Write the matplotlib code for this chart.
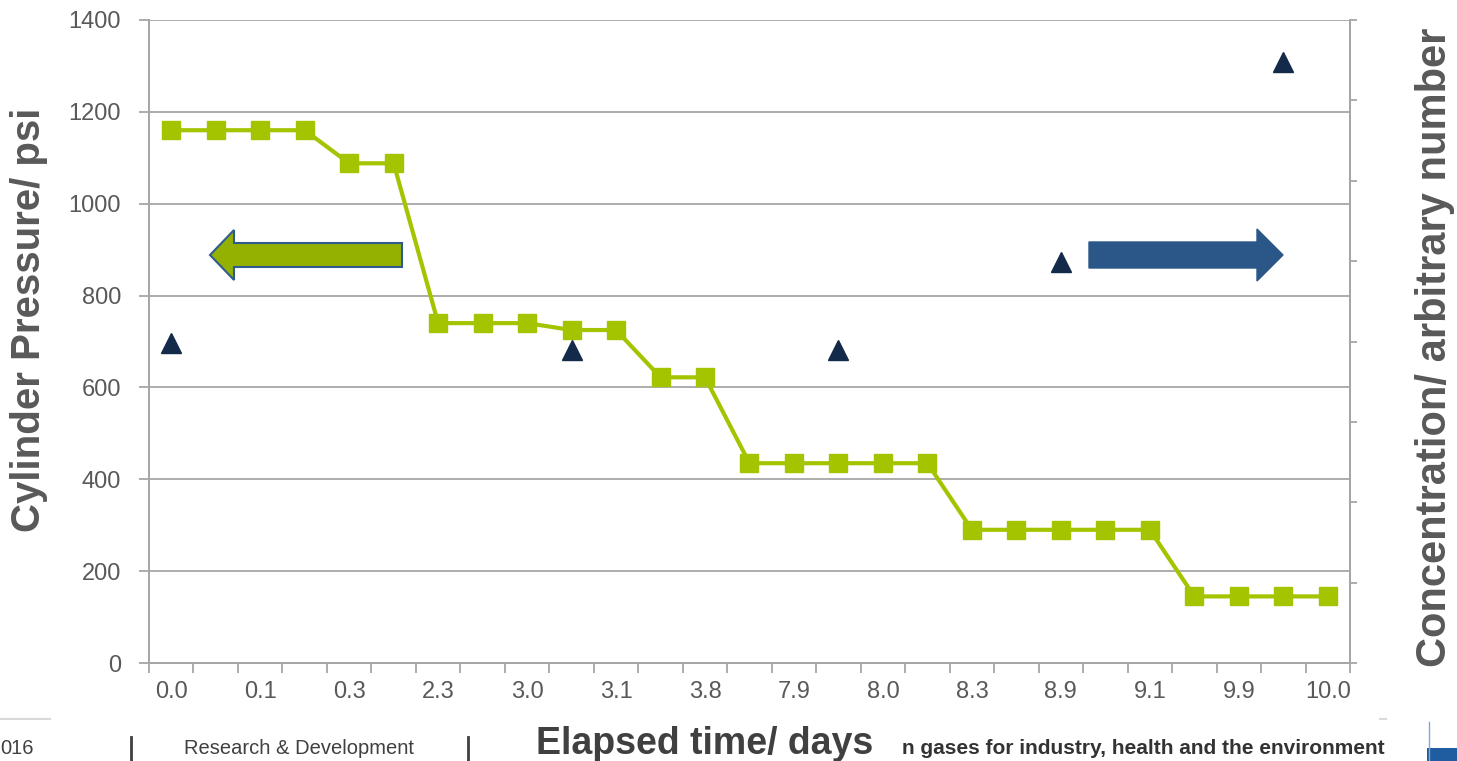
import numpy as np
import matplotlib
matplotlib.use("Agg")
import matplotlib.pyplot as plt
from matplotlib.patches import Polygon, Rectangle
from matplotlib.lines import Line2D

plt.rcParams["font.family"] = ["Liberation Sans", "DejaVu Sans"]

# pressure readings, one per sample (27 samples, every 2nd labelled)
pressure = [1160, 1160, 1160, 1160, 1088, 1088,
            740, 740, 740, 725, 725, 622, 622,
            435, 435, 435, 435, 435,
            290, 290, 290, 290, 290,
            145, 145, 145, 145]
time_labels = ["0.0", "0.1", "0.3", "2.3", "3.0", "3.1", "3.8",
               "7.9", "8.0", "8.3", "8.9", "9.1", "9.9", "10.0"]

# concentration samples (secondary axis, arbitrary units)
conc_idx = [0, 9, 15, 20, 25]
conc_val = [3.98, 3.89, 3.89, 4.99, 7.48]

GREEN = "#A5C400"
NAVY = "#142A4A"
GRID = "#A6A6A6"
TXT = "#595959"


def fx(xp):
    return xp / 1457


def fy(yp):
    return 1 - yp / 761


def draw_chart():
    fig = plt.figure(figsize=(14.57, 7.61), dpi=100)
    ax = fig.add_axes([fx(149), fy(663), 1201 / 1457, 643 / 761])

    x = np.arange(len(pressure))
    ax.plot(x, pressure, color=GREEN, lw=3, marker="s", ms=13,
            mec=GREEN, mfc=GREEN, zorder=3)

    ax.set_xlim(-0.5, len(pressure) - 0.5)
    ax.set_ylim(0, 1400)
    ax.set_yticks(range(0, 1401, 200))
    ax.yaxis.grid(True, color=GRID, lw=1.3)
    ax.set_axisbelow(True)

    ax.set_xticks(x[::2], time_labels)
    ax.set_xticks(np.arange(-0.5, len(pressure), 1), minor=True)
    ax.tick_params(axis="x", which="major", length=0, pad=13,
                   labelsize=17, labelcolor=TXT)
    ax.tick_params(axis="x", which="minor", length=7, color=GRID, width=1.3)
    ax.tick_params(axis="y", length=7, color=GRID, width=1.3, pad=13,
                   labelsize=17, labelcolor=TXT)

    for side in ["left", "bottom", "right"]:
        ax.spines[side].set_color(GRID)
        ax.spines[side].set_linewidth(1.3)
    ax.spines["top"].set_visible(False)

    ax2 = ax.twinx()
    ax2.plot(conc_idx, conc_val, ls="none", marker="^", ms=15,
             color=NAVY, zorder=4)
    ax2.set_ylim(0, 8)
    ax2.set_yticks(range(0, 9))
    ax2.set_yticklabels([])
    ax2.tick_params(axis="y", length=5, color=GRID, width=1.3)
    for side in ["left", "bottom", "right"]:
        ax2.spines[side].set_color(GRID)
        ax2.spines[side].set_linewidth(1.3)
    ax2.spines["top"].set_visible(False)

    # axis titles placed like on the slide
    fig.text(fx(29), fy(320), "Cylinder Pressure/ psi", fontsize=29,
             fontweight="bold", color=TXT, rotation=90,
             ha="center", va="center")
    fig.text(fx(1435), fy(347), "Concentration/ arbitrary number",
             fontsize=30, fontweight="bold", color=TXT, rotation=90,
             ha="center", va="center")

    # direction arrows (which axis each series belongs to)
    def px(xp, yp):
        return ((xp - 149) / 1201, (663 - yp) / 643)

    green_arrow = [px(210, 255), px(234, 230), px(234, 243), px(402, 243),
                   px(402, 267), px(234, 267), px(234, 280)]
    ax.add_patch(Polygon(green_arrow, closed=True, transform=ax.transAxes,
                         fc="#94B000", ec="#2F5C8F", lw=1.5, zorder=5,
                         clip_on=False))
    blue_arrow = [px(1283, 255), px(1257, 229), px(1257, 242), px(1089, 242),
                  px(1089, 268), px(1257, 268), px(1257, 281)]
    ax.add_patch(Polygon(blue_arrow, closed=True, transform=ax.transAxes,
                         fc="#2A5788", ec="#2A5788", lw=1, zorder=5,
                         clip_on=False))

    # x label sits in the slide footer
    fig.text(fx(705), fy(744), "Elapsed time/ days", fontsize=27,
             fontweight="bold", color="#404040", ha="center", va="center")

    # slide footer bits
    fig.text(0, fy(748), "016", fontsize=14.5, color="#404040",
             ha="left", va="center")
    fig.text(fx(299), fy(748), "Research & Development", fontsize=14.5,
             color="#404040", ha="center", va="center")
    fig.text(fx(1385), fy(748),
             "n gases for industry, health and the environment", fontsize=15,
             fontweight="bold", color="#333333", ha="right", va="center")
    for xp in [131, 468]:
        fig.add_artist(Line2D([fx(xp), fx(xp)], [fy(737), 0],
                              color="#404040", lw=2))
    fig.add_artist(Line2D([0, fx(50)], [fy(719)] * 2,
                          color="#D9D9D9", lw=1.5))
    fig.add_artist(Line2D([fx(1380), fx(1386)], [fy(719)] * 2,
                          color="#D9D9D9", lw=1.5))
    # corner of the logo
    fig.add_artist(Rectangle((fx(1427), 0), 30 / 1457, 13 / 761,
                             fc="#1F5DA0", ec="none"))
    fig.add_artist(Line2D([fx(1429), fx(1429)], [0, fy(722)],
                          color="#7FA8D6", lw=1))

    fig.savefig("out.png", dpi=100)


if __name__ == "__main__":
    draw_chart()
